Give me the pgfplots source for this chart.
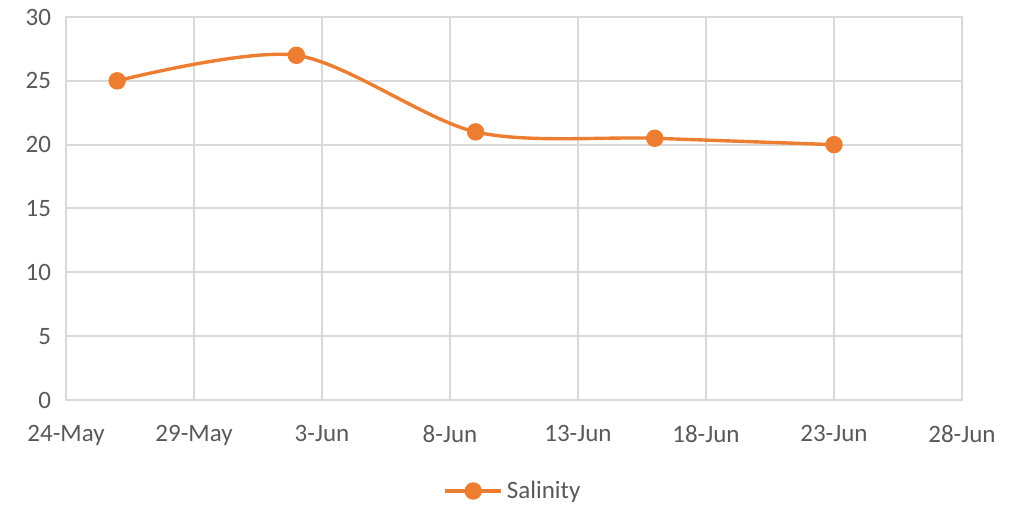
\documentclass[border=0pt]{standalone}
\usepackage{pgfplots}
\pgfplotsset{compat=1.18}
\usepackage{fontspec}
\setmainfont{Carlito}
\definecolor{salt}{RGB}{237,125,49}
\definecolor{gridc}{RGB}{217,217,217}
\definecolor{txt}{RGB}{89,89,89}

\begin{document}
\begin{tikzpicture}
\begin{axis}[
  at={(0,0)},anchor=south west,
  scale only axis,width=448pt,height=191.5pt,
  xmin=0,xmax=35,ymin=0,ymax=30,
  xtick={0,5,...,35},
  xticklabels={24-May,29-May,3-Jun,8-Jun,13-Jun,18-Jun,23-Jun,28-Jun},
  ytick={0,5,...,30},
  grid=major,major grid style={gridc,line width=1pt},
  axis line style={gridc,line width=1pt},
  major tick length=0pt,
  font=\fontsize{12.5}{15}\selectfont,
  tick label style={color=txt},
  /pgf/number format/assume math mode=true,
  xticklabel style={yshift=-9pt},
  yticklabel style={xshift=-4pt},
  legend style={at={(0.5,-0.2376)},anchor=center,draw=none,fill=none,
    text=txt,font=\fontsize{12.5}{15}\selectfont},
  legend image code/.code={
    \draw[mark repeat=2,mark phase=2] plot coordinates {(0pt,0pt) (14pt,0pt) (28pt,0pt)};},
  clip=false,
]
\addplot[salt,line width=1.7pt,smooth,mark=*,mark size=3.5pt,mark options={fill=salt,draw=salt}]
  coordinates {(2,25) (9,27) (16,21) (23,20.5) (30,20)};
\legend{Salinity}
\end{axis}
\pgfresetboundingbox
\path (-33pt,-53pt) rectangle (474pt,200pt);
\end{tikzpicture}
\end{document}
